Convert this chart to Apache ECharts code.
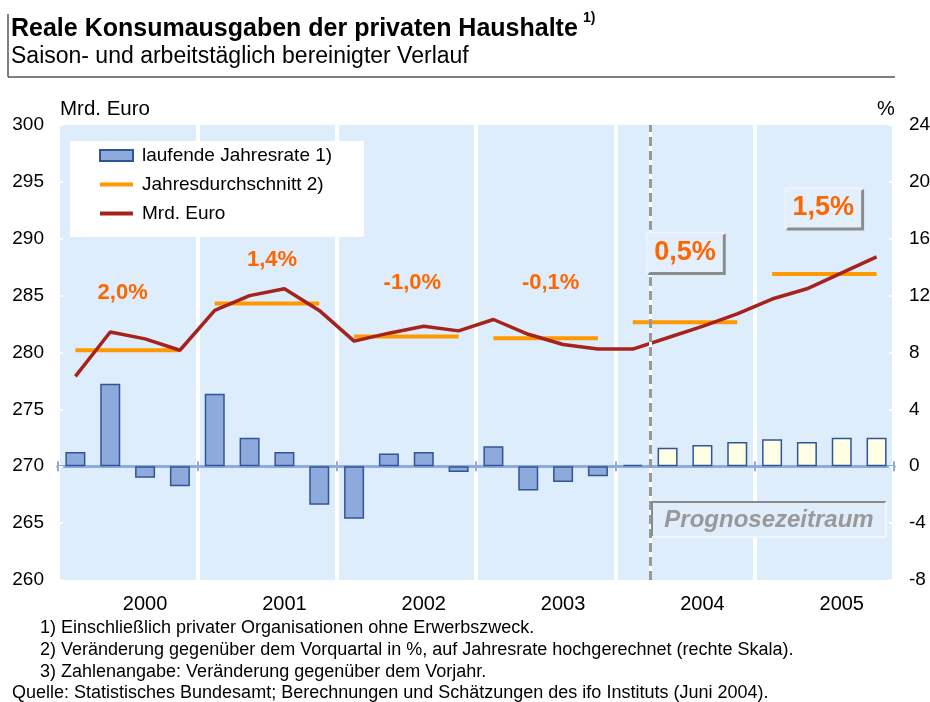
<!DOCTYPE html>
<html>
<head>
<meta charset="utf-8">
<script src="https://cdn.jsdelivr.net/npm/echarts@6/dist/echarts.min.js"></script>
<style>
  html, body { margin: 0; padding: 0; background: #fff; }
  #chart { width: 930px; height: 702px; }
</style>
</head>
<body>
<div id="chart"></div>
<script>
// Quartale 2000-2005
var quarters = [];
var years = ['2000', '2001', '2002', '2003', '2004', '2005'];
years.forEach(function (y) { ['Q1', 'Q2', 'Q3', 'Q4'].forEach(function (q) { quarters.push(y + ' ' + q); }); });

// laufende Jahresrate in % (rechte Skala)
var rate = [1.0, 5.8, -0.8, -1.4,  5.1, 2.0, 1.0, -2.7,  -3.7, 0.9, 1.0, -0.4,
            1.4, -1.7, -1.1, -0.7,  0.1, 1.3, 1.5, 1.7,  1.9, 1.7, 2.0, 2.0];
// Mrd. Euro (linke Skala)
var level = [277.9, 281.8, 281.2, 280.2,  283.7, 285.0, 285.6, 283.7,  281.0, 281.7, 282.3, 281.9,
             282.9, 281.6, 280.7, 280.3,  280.3, 281.3, 282.3, 283.4,  284.7, 285.6, 287.0, 288.4];
// Jahresdurchschnitt Mrd. Euro
var yearAvg = [280.2, 284.3, 281.4, 281.25, 282.65, 286.9];
// Veraenderung gegenueber Vorjahr
var yearChange = ['2,0%', '1,4%', '-1,0%', '-0,1%', '0,5%', '1,5%'];
var firstForecast = 17; // ab 2004 Q2 Prognose

var leftAxis = { min: 260, max: 300, interval: 5 };
var rightAxis = { min: -8, max: 24, interval: 4 };

// wo die Prozentangaben stehen (linke Skala) + kleine Verschiebung in px
var labelAnchor = [285.2, 288.1, 286.1, 286.1, 288.8, 292.7];
var labelShift = [-5, 5, 6, 5, 0, -1];

var FONT = 'Arial, "Liberation Sans", sans-serif';
var chart = echarts.init(document.getElementById('chart'));

var avgData = [];
yearAvg.forEach(function (v, i) {
  avgData.push([i * 4 + 0.5, v], [i * 4 + 3.5, v], [i * 4 + 3.6, '-']);
});

var axisBlue = '#8faadc';
var orange = '#ff9900';
var darkRed = '#a5231b';

var option = {
  animation: false,
  backgroundColor: '#fff',
  textStyle: { fontFamily: FONT },
  grid: {
    left: 58, right: 36, top: 125, bottom: 122,
    show: true, backgroundColor: '#deedfc', borderWidth: 0,
    containLabel: false, outerBoundsMode: 'none'
  },
  legend: {
    orient: 'vertical', left: 70, top: 141,
    backgroundColor: '#fff',
    padding: [5, 32, 14, 28],
    itemWidth: 33, itemHeight: 11, itemGap: 10,
    textStyle: { fontSize: 19, color: '#000', fontFamily: FONT, padding: [0, 0, 0, 4] },
    selectedMode: false,
    data: [
      { name: 'laufende Jahresrate 1)', icon: 'rect' },
      { name: 'Jahresdurchschnitt 2)', itemStyle: { opacity: 0 }, lineStyle: { width: 4, color: orange } },
      { name: 'Mrd. Euro', itemStyle: { opacity: 0 }, lineStyle: { width: 4, color: darkRed } }
    ]
  },
  xAxis: [
    { type: 'value', min: 0, max: 24, show: false },
    {
      type: 'category', data: quarters, position: 'bottom',
      axisLine: { show: false }, axisTick: { show: false }, splitLine: { show: false },
      axisLabel: {
        interval: 0, margin: 14, fontSize: 20, color: '#000', fontFamily: FONT,
        formatter: function (v, i) { return i % 4 === 2 ? v.slice(0, 4) : ''; }
      }
    },
    {
      type: 'category', data: years, position: 'bottom',
      axisLine: { onZero: true, onZeroAxisIndex: 1, lineStyle: { color: axisBlue, width: 3 } },
      axisTick: { show: true, length: 5, lineStyle: { color: axisBlue, width: 2 } },
      axisLabel: { show: false },
      splitLine: { show: true, lineStyle: { color: '#fff', width: 4 } }
    },
    {
      type: 'category', data: years, position: 'bottom',
      axisLine: { onZero: true, onZeroAxisIndex: 1, lineStyle: { color: axisBlue, width: 3 } },
      axisTick: { show: true, inside: true, length: 5, lineStyle: { color: axisBlue, width: 2 } },
      axisLabel: { show: false },
      splitLine: { show: false }
    }
  ],
  yAxis: [
    {
      type: 'value', position: 'left', min: leftAxis.min, max: leftAxis.max, interval: leftAxis.interval,
      axisLine: { show: false },
      axisTick: { show: true, inside: true, length: 5, lineStyle: { color: '#fff', width: 2 } },
      splitLine: { show: false },
      axisLabel: { fontSize: 19, color: '#000', margin: 14, fontFamily: FONT }
    },
    {
      type: 'value', position: 'right', min: rightAxis.min, max: rightAxis.max, interval: rightAxis.interval,
      axisLine: { show: false },
      axisTick: { show: true, inside: true, length: 5, lineStyle: { color: '#fff', width: 2 } },
      splitLine: { show: false },
      axisLabel: { fontSize: 19, color: '#000', margin: 15, fontFamily: FONT }
    }
  ],
  series: [
    {
      name: 'laufende Jahresrate 1)', type: 'bar', xAxisIndex: 0, yAxisIndex: 1,
      barWidth: 20,
      itemStyle: { color: '#8eaadc', borderColor: '#2f5597', borderWidth: 1.5 },
      data: rate.map(function (v, i) {
        var d = { value: [i + 0.5, v] };
        if (i >= firstForecast) d.itemStyle = { color: '#ffffe3' };
        return d;
      }),
      markLine: {
        silent: true, symbol: 'none', label: { show: false },
        lineStyle: { color: '#999', type: [9, 5], width: 3 },
        data: [
          { xAxis: firstForecast, lineStyle: { color: '#fff', type: 'solid', width: 3 } },
          { xAxis: firstForecast }
        ]
      }
    },
    {
      name: 'Jahresdurchschnitt 2)', type: 'line', xAxisIndex: 0, yAxisIndex: 0,
      symbol: 'none', connectNulls: false,
      itemStyle: { color: orange },
      lineStyle: { color: orange, width: 4 },
      data: avgData, z: 3
    },
    {
      name: 'Mrd. Euro', type: 'line', xAxisIndex: 0, yAxisIndex: 0,
      symbol: 'none',
      itemStyle: { color: darkRed },
      lineStyle: { color: darkRed, width: 3.5 },
      data: level.map(function (v, i) { return [i + 0.5, v]; }), z: 4
    },
    {
      name: 'Veränderung', type: 'scatter', xAxisIndex: 0, yAxisIndex: 0,
      symbolSize: 1, itemStyle: { color: 'rgba(0,0,0,0)', opacity: 1 }, silent: true, z: 6,
      data: yearChange.map(function (t, i) {
        var boxed = i >= 4;
        var lab = boxed ? {
          fontSize: 27, backgroundColor: '#e3effc', borderColor: '#f3f8fe', borderWidth: 1,
          padding: [6, 7, 6, 7], shadowColor: '#8c8c8c', shadowOffsetX: 2, shadowOffsetY: 2, shadowBlur: 0
        } : { fontSize: 22 };
        lab.offset = [labelShift[i], 0];
        return { value: [i * 4 + 2, labelAnchor[i]], label: lab };
      }),
      label: {
        show: true, position: 'inside', color: '#ff6600', fontWeight: 'bold', fontFamily: FONT,
        opacity: 1,
        formatter: function (p) { return yearChange[p.dataIndex]; }
      }
    }
  ],
  graphic: [
    { type: 'line', shape: { x1: 8, y1: 14, x2: 8, y2: 77 }, style: { stroke: '#555', lineWidth: 1.5 } },
    { type: 'line', shape: { x1: 8, y1: 77, x2: 895, y2: 77 }, style: { stroke: '#555', lineWidth: 1.5 } },
    { type: 'text', style: { x: 11, y: 29, text: 'Reale Konsumausgaben der privaten Haushalte', font: 'bold 25px ' + FONT, fill: '#000', textVerticalAlign: 'middle' } },
    { type: 'text', style: { x: 583, y: 18, text: '1)', font: 'bold 14px ' + FONT, fill: '#000', textVerticalAlign: 'middle' } },
    { type: 'text', style: { x: 11, y: 57, text: 'Saison- und arbeitstäglich bereinigter Verlauf', font: '23px ' + FONT, fill: '#000', textVerticalAlign: 'middle' } },
    { type: 'text', style: { x: 60, y: 109, text: 'Mrd. Euro', font: '20.5px ' + FONT, fill: '#000', textVerticalAlign: 'middle' } },
    { type: 'text', style: { x: 877, y: 109, text: '%', font: '20px ' + FONT, fill: '#000', textVerticalAlign: 'middle' } },
    // Prognosezeitraum
    { type: 'rect', shape: { x: 652, y: 502, width: 234, height: 35 }, style: { fill: '#e0edfb' }, z: 5 },
    { type: 'polyline', shape: { points: [[652, 537], [652, 502], [886, 502]] }, style: { stroke: '#8a8a8a', lineWidth: 2, fill: null }, z: 6 },
    { type: 'polyline', shape: { points: [[886, 502], [886, 537], [652, 537]] }, style: { stroke: '#f2f7fd', lineWidth: 2, fill: null }, z: 6 },
    { type: 'text', style: { x: 769, y: 520, text: 'Prognosezeitraum', font: 'italic bold 24px ' + FONT, fill: '#999', textAlign: 'center', textVerticalAlign: 'middle' }, z: 7 },
    // Fussnoten
    { type: 'text', style: { x: 40, y: 628, text: '1) Einschließlich privater Organisationen ohne Erwerbszweck.', font: '18px ' + FONT, fill: '#000', textVerticalAlign: 'middle' } },
    { type: 'text', style: { x: 40, y: 650, text: '2) Veränderung gegenüber dem Vorquartal in %, auf Jahresrate hochgerechnet (rechte Skala).', font: '18px ' + FONT, fill: '#000', textVerticalAlign: 'middle' } },
    { type: 'text', style: { x: 40, y: 672, text: '3) Zahlenangabe: Veränderung gegenüber dem Vorjahr.', font: '18px ' + FONT, fill: '#000', textVerticalAlign: 'middle' } },
    { type: 'text', style: { x: 12, y: 693, text: 'Quelle: Statistisches Bundesamt; Berechnungen und Schätzungen des ifo Instituts (Juni 2004).', font: '18px ' + FONT, fill: '#000', textVerticalAlign: 'middle' } }
  ]
};

chart.setOption(option);
</script>
</body>
</html>
